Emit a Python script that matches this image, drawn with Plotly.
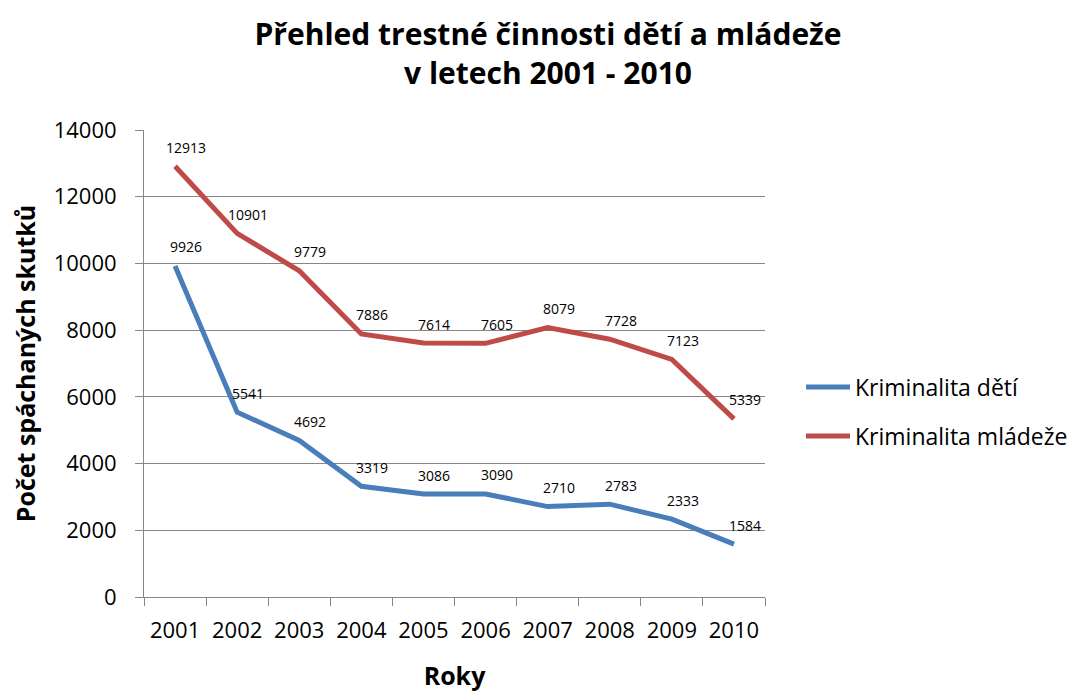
import plotly.graph_objects as go

years = ["2001", "2002", "2003", "2004", "2005", "2006", "2007", "2008", "2009", "2010"]
deti = [9926, 5541, 4692, 3319, 3086, 3090, 2710, 2783, 2333, 1584]
mladez = [12913, 10901, 9779, 7886, 7614, 7605, 8079, 7728, 7123, 5339]
series_names = ["Kriminalita dětí", "Kriminalita mládeže"]
colors = ["#4A7EBB", "#BE4B48"]

FONT = "Open Sans"

fig = go.Figure()
for name, vals, col in zip(series_names, [deti, mladez], colors):
    fig.add_trace(go.Scatter(
        x=years, y=vals, mode="lines", name=name, legendgroup=name,
        line=dict(color=col, width=5),
    ))
    for i, yv in enumerate(vals):
        fig.add_annotation(
            x=i, y=yv, xref="x", yref="y", text=str(yv), showarrow=False,
            xshift=11, yshift=19, font=dict(family=FONT, size=14, color="#000000"),
        )

fig.update_layout(
    width=1080, height=691,
    paper_bgcolor="white", plot_bgcolor="white",
    margin=dict(l=136, r=323, t=122, b=102),
    title=dict(
        text="<b>Přehled trestné činnosti dětí a mládeže<br>v letech 2001 - 2010</b>",
        x=0.5, xref="container", xanchor="center",
        y=0.946, yref="container", yanchor="top",
        font=dict(family=FONT, size=30, color="#000000"),
    ),
    legend=dict(
        x=1.058, xanchor="left", xref="paper", y=0.397, yanchor="middle",
        font=dict(family=FONT, size=23, color="#000000"),
        tracegroupgap=16, itemwidth=44,
        bgcolor="rgba(0,0,0,0)",
    ),
    showlegend=True,
)
fig.update_xaxes(
    type="category", tickson="boundaries", ticks="outside", ticklen=8,
    tickcolor="#868686", showline=True, linecolor="#868686", linewidth=1,
    showgrid=False, tickangle=0, range=[-0.5, 9.5], ticklabelstandoff=14,
    tickfont=dict(family=FONT, size=22, color="#000000"),
    title=dict(text="<b>Roky</b>", font=dict(family=FONT, size=25, color="#000000"), standoff=24),
)
fig.update_yaxes(
    range=[0, 14000], dtick=2000, tickformat="d", ticks="outside", ticklen=8,
    tickcolor="#868686", showline=True, linecolor="#868686", linewidth=1,
    showgrid=True, gridcolor="#868686", gridwidth=1, zeroline=False,
    ticklabelstandoff=14,
    tickfont=dict(family=FONT, size=22, color="#000000"),
    title=dict(text="<b>Počet spáchaných skutků</b>", font=dict(family=FONT, size=25, color="#000000"), standoff=10),
)

fig.write_html("out.html")
